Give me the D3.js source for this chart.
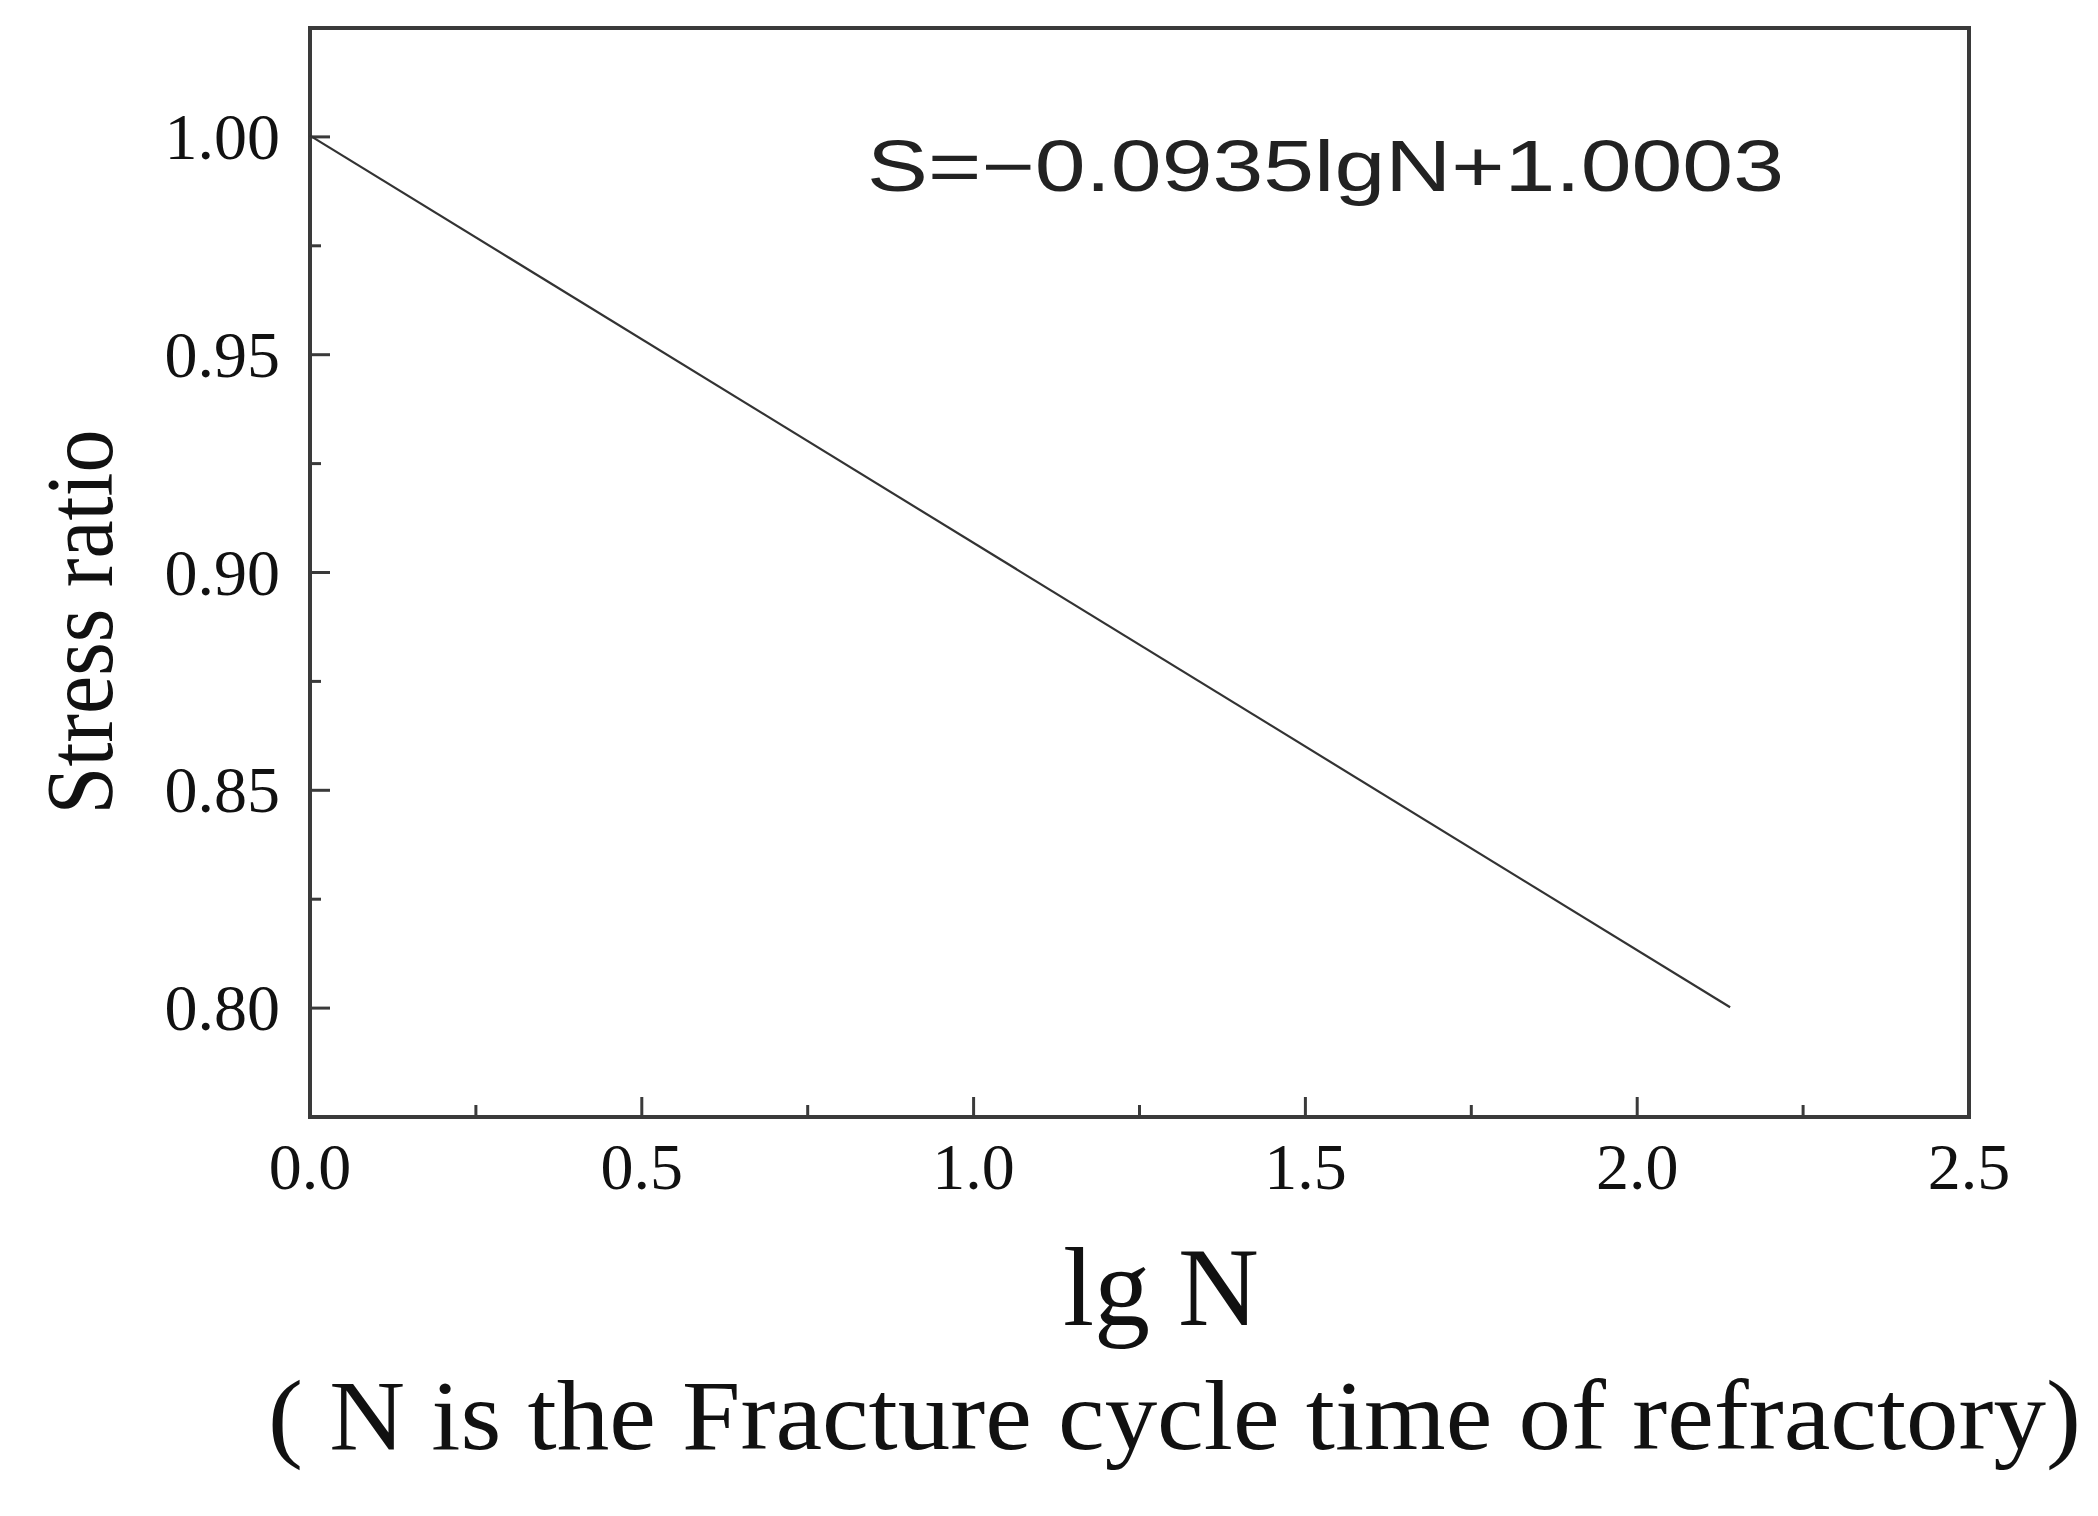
<!DOCTYPE html>
<html><head><meta charset="utf-8">
<script src="https://cdn.jsdelivr.net/npm/d3@7"></script>
<style>body{margin:0;background:#fff}</style>
</head><body>
<script>
const lineX = [0, 2.14];
const lineY = [1.0003, 0.8002];
const xTicks = [0, 0.5, 1.0, 1.5, 2.0, 2.5];
const xMinor = [0.25, 0.75, 1.25, 1.75, 2.25];
const yTicks = [0.80, 0.85, 0.90, 0.95, 1.00];
const yMinor = [0.775, 0.825, 0.875, 0.925, 0.975];
const equation = "S=\u22120.0935lgN+1.0003";
const xLabel = "lg N";
const note = "( N is the Fracture cycle time of refractory)";
const yLabel = "Stress ratio";

const W = 2098, H = 1516;
const L = 310, R = 1969, T = 28, B = 1117;
const svg = d3.select("body").append("svg").attr("width", W).attr("height", H);
const x = d3.scaleLinear().domain([0, 2.5]).range([L, R]);
const y = d3.scaleLinear().domain([0.775, 1.025]).range([B, T]);
const serif = "'Liberation Serif','Times New Roman',serif";
const col = "#3a3a3a";

// ticks
const g = svg.append("g").attr("stroke", col).attr("stroke-width", 3);
yTicks.forEach(v => g.append("line").attr("x1", L).attr("x2", L + 20).attr("y1", y(v)).attr("y2", y(v)));
yMinor.forEach(v => g.append("line").attr("x1", L).attr("x2", L + 11).attr("y1", y(v)).attr("y2", y(v)));
xTicks.forEach(v => g.append("line").attr("x1", x(v)).attr("x2", x(v)).attr("y1", B).attr("y2", B - 20));
xMinor.forEach(v => g.append("line").attr("x1", x(v)).attr("x2", x(v)).attr("y1", B).attr("y2", B - 12));

svg.append("rect").attr("x", L).attr("y", T).attr("width", R - L).attr("height", B - T)
  .attr("fill", "none").attr("stroke", col).attr("stroke-width", 4);

// line
svg.append("path").datum(lineX.map((v, i) => [v, lineY[i]]))
  .attr("d", d3.line().x(d => x(d[0])).y(d => y(d[1])))
  .attr("fill", "none").attr("stroke", "#333").attr("stroke-width", 2.2);

// tick labels
yTicks.forEach(v => svg.append("text").attr("x", L - 30).attr("y", y(v) + 22)
  .attr("text-anchor", "end").attr("font-family", serif).attr("font-size", 66)
  .attr("fill", "#111").text(d3.format(".2f")(v)));
xTicks.forEach(v => svg.append("text").attr("x", x(v)).attr("y", 1189)
  .attr("text-anchor", "middle").attr("font-family", serif).attr("font-size", 66)
  .attr("fill", "#111").text(d3.format(".1f")(v)));

// y label
svg.append("text").attr("transform", "translate(112,622) rotate(-90)")
  .attr("text-anchor", "middle").attr("font-family", serif).attr("font-size", 96)
  .attr("textLength", 385).attr("lengthAdjust", "spacingAndGlyphs")
  .attr("fill", "#111").text(yLabel);

// equation
svg.append("text").attr("x", 867).attr("y", 191).attr("font-family", "'Liberation Sans',Arial,sans-serif")
  .attr("font-size", 72).attr("textLength", 917).attr("lengthAdjust", "spacingAndGlyphs")
  .attr("fill", "#222").text(equation);

// x label & note
svg.append("text").attr("x", 1161).attr("y", 1325).attr("text-anchor", "middle")
  .attr("font-family", serif).attr("font-size", 112).attr("fill", "#111").text(xLabel);
svg.append("text").attr("x", 268).attr("y", 1449)
  .attr("font-family", serif).attr("font-size", 100).attr("textLength", 1813)
  .attr("lengthAdjust", "spacingAndGlyphs").attr("fill", "#111").text(note);
</script>
</body></html>
